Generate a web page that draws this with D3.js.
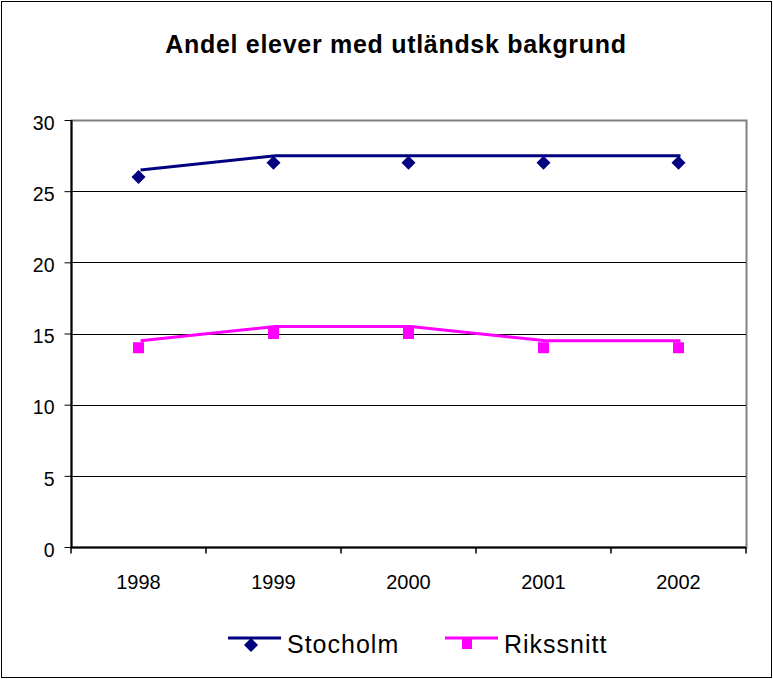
<!DOCTYPE html>
<html>
<head>
<meta charset="utf-8">
<script src="https://cdn.jsdelivr.net/npm/d3@7"></script>
<style>
	body { margin:0; background:#fff; }
	text { font-family: "Liberation Sans", Arial, sans-serif; fill:#000; }
</style>
</head>
<body>
<div id="chart"></div>
<script>
var years	= ["1998", "1999", "2000", "2001", "2002"];
var stockholm	= [26, 27, 27, 27, 27];
var rikssnitt	= [14, 15, 15, 14, 14];
var yTicks	= [0, 5, 10, 15, 20, 25, 30];
var seriesNames	= ["Stocholm", "Rikssnitt"];

var W = 773, H = 679,
	margin	= {top: 120, right: 27, bottom: 132, left: 71},
	w	= W - margin.left - margin.right,
	h	= H - margin.top - margin.bottom,
	lineShift = {x: 2, y: -7};

var series = [
	{name: seriesNames[0], values: stockholm, color: "#000080", marker: "diamond"},
	{name: seriesNames[1], values: rikssnitt, color: "#ff00ff", marker: "square"}
];

var svg = d3.select("#chart").append("svg").attr("width", W).attr("height", H);
svg.append("rect").attr("x", 1.5).attr("y", 1.5).attr("width", W - 3).attr("height", H - 3)
	.attr("fill", "#fff").attr("stroke", "#000").attr("stroke-width", 1);

svg.append("text").attr("x", 396).attr("y", 53).attr("text-anchor", "middle")
	.style("font-size", "25px").style("font-weight", "bold").style("letter-spacing", "0.7px")
	.text("Andel elever med utländsk bakgrund");

var x = d3.scaleBand().domain(years).range([0, w]),
	y = d3.scaleLinear().domain([0, 30]).range([h, 0]);

var g = svg.append("g").attr("transform", "translate(" + margin.left + "," + margin.top + ")");

// plot area frame (grey) and gridlines
g.append("rect").attr("x", 0.5).attr("y", 0.5).attr("width", w).attr("height", h)
	.attr("fill", "none").attr("stroke", "#808080").attr("stroke-width", 2);
g.selectAll(".grid").data(yTicks.slice(1, -1)).enter().append("line").attr("class", "grid")
	.attr("x1", 0).attr("x2", w)
	.attr("y1", function(d) { return Math.round(y(d)) + 0.5; })
	.attr("y2", function(d) { return Math.round(y(d)) + 0.5; })
	.attr("stroke", "#000").attr("stroke-width", 1);

// y axis
var ya = g.append("g").attr("transform", "translate(0.5,0)")
	.call(d3.axisLeft(y).tickValues(yTicks).tickSize(7).tickPadding(10));
ya.select(".domain").attr("stroke", "#000").attr("stroke-width", 2).attr("d", "M0," + h + "V0");
ya.selectAll(".tick line").attr("stroke", "#000");
ya.selectAll(".tick text").style("font-size", "19.5px").attr("dy", "0.47em");

// x axis
var xa = g.append("g").attr("transform", "translate(0," + (h + 0.5) + ")")
	.call(d3.axisBottom(x).tickSize(0));
xa.select(".domain").attr("stroke", "#000").attr("stroke-width", 2).attr("d", "M0,0H" + w);
xa.selectAll(".tick text").style("font-size", "20px").attr("y", 41).attr("dy", null);
xa.selectAll(".sep").data(d3.range(years.length + 1)).enter().append("line").attr("class", "sep")
	.attr("x1", function(i) { return i * x.step(); }).attr("x2", function(i) { return i * x.step(); })
	.attr("y1", 0).attr("y2", 6).attr("stroke", "#000").attr("stroke-width", 1.5);

var line = d3.line()
	.x(function(d, i) { return x(years[i]) + x.bandwidth() / 2; })
	.y(function(d) { return y(d); });

series.forEach(function(s) {
	g.append("path").attr("d", line(s.values))
		.attr("transform", "translate(" + lineShift.x + "," + lineShift.y + ")")
		.attr("fill", "none").attr("stroke", s.color).attr("stroke-width", 3);
	g.selectAll(".m-" + s.marker).data(s.values).enter().append("g").attr("class", "m-" + s.marker)
		.attr("transform", function(d, i) { return "translate(" + (x(years[i]) + x.bandwidth() / 2) + "," + y(d) + ")"; })
		.each(function() {
			var m = d3.select(this);
			if (s.marker == "diamond")
				m.append("path").attr("d", "M0,-7L7,0L0,7L-7,0Z").attr("fill", s.color);
			else
				m.append("rect").attr("x", -5.5).attr("y", -5.5).attr("width", 11).attr("height", 11).attr("fill", s.color);
		});
});

// legend
var legendX = [228, 445];
var lg = svg.selectAll(".legend").data(series).enter().append("g").attr("class", "legend")
	.attr("transform", function(d, i) { return "translate(" + legendX[i] + ",645)"; });
lg.append("line").attr("x1", 0).attr("x2", 53).attr("y1", -7).attr("y2", -7)
	.attr("stroke", function(d) { return d.color; }).attr("stroke-width", 3);
lg.each(function(d) {
	var m = d3.select(this);
	if (d.marker == "diamond")
		m.append("path").attr("d", "M23,-7L30,0L23,7L16,0Z").attr("fill", d.color);
	else
		m.append("rect").attr("x", 17).attr("y", -6).attr("width", 10).attr("height", 10).attr("fill", d.color);
});
lg.append("text").attr("x", 59).attr("y", 8).style("font-size", "25px").style("letter-spacing", "1px")
	.text(function(d) { return d.name; });
</script>
</body>
</html>
